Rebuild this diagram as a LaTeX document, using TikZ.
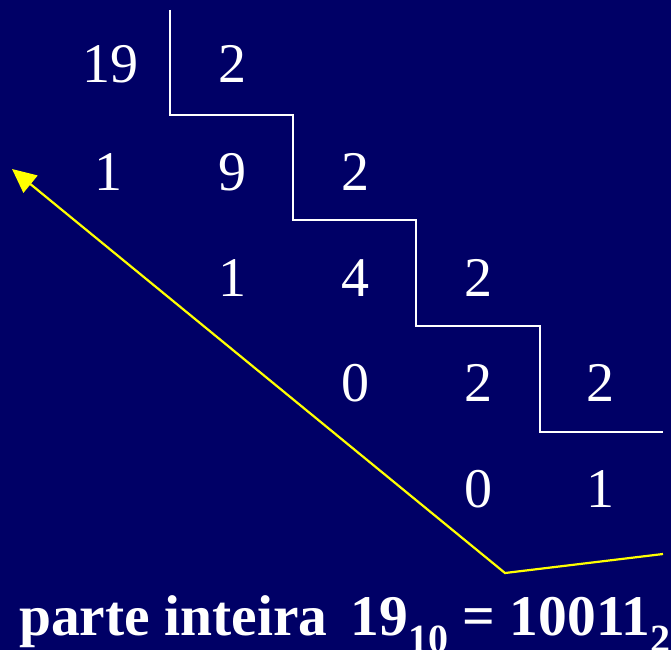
\documentclass[tikz,border=0pt]{standalone}
\usepackage{fontspec}
\setmainfont{Liberation Serif}
\usetikzlibrary{arrows.meta}
\definecolor{bgnavy}{RGB}{0,0,102}
\definecolor{arrowyellow}{RGB}{255,255,0}
\begin{document}
\begin{tikzpicture}[x=1pt,y=-1pt,
  num/.style={text=white,anchor=base,inner sep=0pt,font=\fontsize{56}{56}\selectfont},
  stair/.style={draw=white,line width=2.3pt},
  yarrow/.style={draw=arrowyellow,line width=2.2pt,-{Triangle[length=24pt,width=22pt]}},
  result/.style={text=white,anchor=base west,inner sep=0pt,font=\fontsize{57.5}{57.5}\selectfont\bfseries}]
\fill[bgnavy] (0,0) rectangle (671,650);
\useasboundingbox (0,0) rectangle (671,650);
% numbers
\node[num] (a19) at (110,83) {19};
\node[num] (d1) at (232,83) {2};
\node[num] (r1) at (108,190) {1};
\node[num] (q1) at (232,190) {9};
\node[num] (d2) at (355,190) {2};
\node[num] (r2) at (232,296) {1};
\node[num] (q2) at (355,296) {4};
\node[num] (d3) at (478,296) {2};
\node[num] (r3) at (355,401) {0};
\node[num] (q3) at (478,401) {2};
\node[num] (d4) at (600,401) {2};
\node[num] (r4) at (478,507) {0};
\node[num] (q4) at (600,507) {1};
% stair lines
\coordinate (s0) at (170,10);
\coordinate (s1) at (170,115);
\coordinate (s2) at (293,115);
\coordinate (s3) at (293,220);
\coordinate (s4) at (416,220);
\coordinate (s5) at (416,326);
\coordinate (s6) at (540,326);
\coordinate (s7) at (540,432);
\coordinate (s8) at (663,432);
\draw[stair] (s0) -- (s1) -- (s2) -- (s3) -- (s4) -- (s5) -- (s6) -- (s7) -- (s8);
% yellow arrow
\coordinate (y0) at (663,554);
\coordinate (y1) at (505,573);
\coordinate (y2) at (12,169);
\draw[yarrow] (y0) -- (y1) -- (y2);
% result
\node[result] (res) at (19,635) {parte inteira\hspace{9pt} 19\raisebox{-0.3em}{\fontsize{40}{40}\selectfont 10} = 10011\raisebox{-0.3em}{\fontsize{40}{40}\selectfont 2}};
\end{tikzpicture}
\end{document}
